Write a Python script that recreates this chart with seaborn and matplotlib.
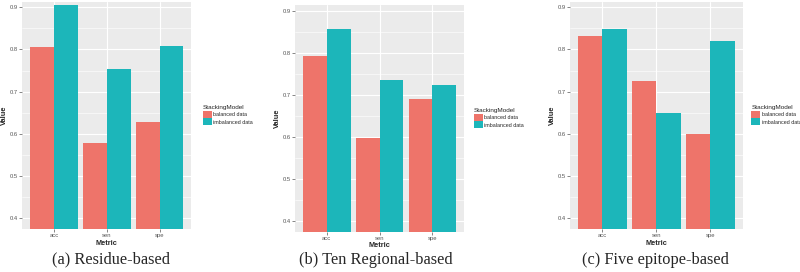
import numpy as np
import pandas as pd
import matplotlib
matplotlib.use("Agg")
import matplotlib.pyplot as plt
import seaborn as sns

# data
metrics = ["acc", "sen", "spe"]
models = ["balanced data", "imbalanced data"]

residue_balanced = [0.805, 0.578, 0.629]
residue_imbalanced = [0.906, 0.754, 0.809]

regional_balanced = [0.793, 0.598, 0.690]
regional_imbalanced = [0.857, 0.736, 0.723]

epitope_balanced = [0.832, 0.725, 0.600]
epitope_imbalanced = [0.848, 0.650, 0.820]

captions = ["(a) Residue-based", "(b) Ten Regional-based", "(c) Five epitope-based"]
yticks = [0.4, 0.5, 0.6, 0.7, 0.8, 0.9]

colors = ["#EE746A", "#1CB6BA"]


def make_df(bal, imb):
    return pd.DataFrame({
        "Metric": metrics * 2,
        "Value": bal + imb,
        "StackingModel": [models[0]] * 3 + [models[1]] * 3,
    })


panels = [
    make_df(residue_balanced, residue_imbalanced),
    make_df(regional_balanced, regional_imbalanced),
    make_df(epitope_balanced, epitope_imbalanced),
]

sns.set_theme(style="white")
plt.rcParams["font.family"] = ["Liberation Sans", "DejaVu Sans"]

fig = plt.figure(figsize=(8, 2.72), dpi=100)

# axes boxes in figure fractions [left, bottom, width, height]
boxes = [
    [0.028, 0.158, 0.211, 0.836],
    [0.369, 0.148, 0.211, 0.835],
    [0.7125, 0.158, 0.216, 0.836],
]
ylims = [(0.375, 0.913), (0.374, 0.915), (0.375, 0.913)]
caption_x = [0.139, 0.470, 0.819]
legend_dx = [1.07, 1.06, 1.05]

for df, box, ylim, cap, cx, dx in zip(panels, boxes, ylims, captions, caption_x, legend_dx):
    ax = fig.add_axes(box)
    ax.set_facecolor("#EBEBEB")
    # ggplot-like grid
    for y in yticks:
        ax.axhline(y, color="white", lw=0.8, zorder=0)
    for y in np.arange(0.35, 0.95, 0.1):
        ax.axhline(y, color="white", lw=0.4, zorder=0)
    for x in range(3):
        ax.axvline(x, color="white", lw=0.8, zorder=0)

    sns.barplot(data=df, x="Metric", y="Value", hue="StackingModel",
                palette=colors, width=0.9, gap=0, ax=ax, zorder=2,
                errorbar=None, saturation=1, linewidth=0, edgecolor="none")

    ax.set_xlim(-0.6, 2.6)
    ax.set_ylim(*ylim)
    ax.set_yticks(yticks)
    ax.set_yticklabels([f"{t:.1f}" for t in yticks])
    for s in ax.spines.values():
        s.set_visible(False)
    ax.tick_params(axis="both", length=2, width=0.5, color="#555555",
                   labelsize=4.2, labelcolor="#555555", pad=1, left=True, bottom=True)
    ax.set_xlabel("Metric", fontsize=5.3, fontweight="bold", labelpad=1)
    ax.set_ylabel("Value", fontsize=5.3, fontweight="bold", labelpad=1.5)

    leg = ax.legend(title="StackingModel", loc="center left", bbox_to_anchor=(dx, 0.5),
                    frameon=False, fontsize=3.9, title_fontsize=4.6,
                    handlelength=1.6, handleheight=1.6, handletextpad=0.3,
                    labelspacing=0.12, borderaxespad=0, borderpad=0)
    leg._legend_box.align = "left"

    fig.text(cx, 0.045, cap, ha="center", va="center", fontsize=11.8,
             family=["Liberation Serif"])

fig.savefig("out.png", dpi=100)
